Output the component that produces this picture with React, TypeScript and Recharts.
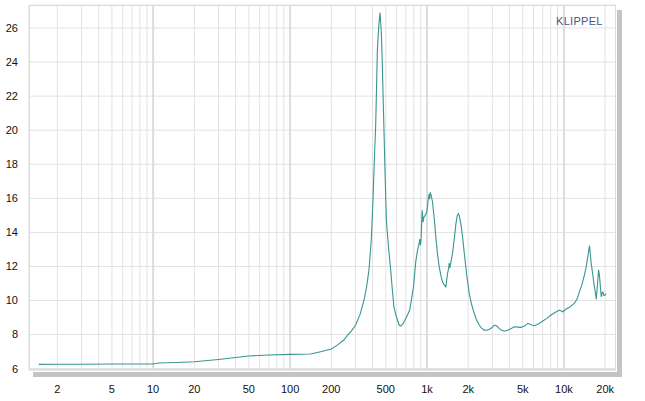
import React from "react";
import { LineChart, Line, XAxis, YAxis, CartesianGrid, ReferenceLine } from "recharts";

const freqs = [
  1.46, 2, 3, 5, 8, 10, 10.5, 11, 15, 20, 30, 40, 50, 70, 100, 141, 167, 200, 221, 247,
  262, 280, 301, 325, 347, 362, 377, 392, 404, 415, 422, 434, 445, 454, 464, 472, 480, 485,
  495, 505, 525, 543, 560, 574, 600, 625, 643, 670, 700, 748, 797, 828, 855, 876, 885, 895,
  905, 912, 922, 935, 950, 970, 997, 1020, 1036, 1045, 1055, 1070, 1096, 1130, 1159, 1190,
  1226, 1260, 1297, 1340, 1373, 1413, 1440, 1452, 1465, 1490, 1538, 1580, 1626, 1660, 1690,
  1720, 1768, 1820, 1870, 1950, 2034, 2120, 2212, 2300, 2405, 2500, 2618, 2740, 2850, 2970,
  3099, 3230, 3373, 3520, 3670, 4000, 4345, 4600, 4862, 5150, 5445, 5750, 6085, 6500, 7009,
  7500, 8060, 8600, 9270, 9820, 10400, 10970, 11930, 12500, 12980, 13500, 14120, 14500,
  14950, 15370, 15810, 16200, 16560, 17000, 17220, 17600, 17910, 18210, 18500, 18730,
  19000, 19270, 19550, 19810, 20370,
];

const impedance = [
  6.25, 6.26, 6.26, 6.27, 6.27, 6.28, 6.3, 6.33, 6.36, 6.4, 6.54, 6.65, 6.74, 6.8, 6.84, 6.86, 6.99, 7.15, 7.38, 7.68,
  7.95, 8.2, 8.56, 9.2, 10.03, 10.8, 11.8, 13.6, 16.1, 18.85, 20.3, 24.7, 26.2, 26.9, 25.7, 23.75, 21.4, 20.0,
  17.2, 14.7, 13.0, 11.8, 10.5, 9.6, 9.0, 8.56, 8.5, 8.65, 8.95, 9.44, 10.8, 12.3, 13.0, 13.36, 13.6, 13.25,
  13.6, 14.3, 15.3, 14.6, 14.9, 15.0, 15.2, 15.9, 16.25, 15.95, 16.35, 16.2, 15.8, 14.8, 13.75, 12.8,
  12.0, 11.5, 11.1, 10.9, 10.8, 11.6, 11.9, 12.2, 11.9, 12.2, 12.8, 13.6, 14.5, 14.95, 15.1,
  15.0, 14.5, 13.7, 12.8, 11.5, 10.4, 9.75, 9.25, 8.85, 8.56, 8.38, 8.26, 8.25, 8.3, 8.4,
  8.56, 8.5, 8.35, 8.25, 8.2, 8.3, 8.46, 8.44, 8.42, 8.5, 8.66, 8.58, 8.52, 8.62, 8.8,
  8.95, 9.15, 9.3, 9.44, 9.34, 9.5, 9.6, 9.84, 10.1, 10.52, 10.9, 11.5, 11.95,
  12.58, 13.22, 12.19, 11.6, 11.0, 10.4, 10.07, 11.0, 11.8, 11.4, 10.7, 10.22,
  10.45, 10.5, 10.3, 10.3, 10.4,
];

const xTicks = [2, 5, 10, 20, 50, 100, 200, 500, 1000, 2000, 5000, 10000, 20000];
const gridFreqs = [
  2, 3, 4, 5, 6, 7, 8, 9, 10, 20, 30, 40, 50, 60, 70, 80, 90, 100, 200, 300, 400, 500, 600, 700,
  800, 900, 1000, 2000, 3000, 4000, 5000, 6000, 7000, 8000, 9000, 10000, 20000,
];
const decadeFreqs = [10, 100, 1000, 10000];
const yTicks = [6, 8, 10, 12, 14, 16, 18, 20, 22, 24, 26];
const yMinorTicks = [6.5, 7, 7.5, 8.5, 9, 9.5, 10.5, 11, 11.5, 12.5, 13, 13.5, 14.5, 15, 15.5,
  16.5, 17, 17.5, 18.5, 19, 19.5, 20.5, 21, 21.5, 22.5, 23, 23.5, 24.5, 25, 25.5, 26.5, 27];

const data = freqs.map((f, i) => ({ f, z: impedance[i] }));

const fmtX = (v: number) => (v >= 1000 ? `${v / 1000}k` : `${v}`);

export default function App() {
  const font = { fontFamily: "'Liberation Sans', Arial, sans-serif", fontSize: 11, fill: "#111" };
  return (
    <div style={{ position: "absolute", left: 0, top: 0, width: 645, height: 401, background: "#fff" }}>
      <div style={{ position: "absolute", left: 617, top: 10, width: 5, height: 366, background: "#c4c4c4" }} />
      <div style={{ position: "absolute", left: 33, top: 372, width: 589, height: 5, background: "#c4c4c4" }} />
      <LineChart width={645} height={401} data={data} margin={{ top: 5, right: 29, bottom: 0, left: 0 }}>
        <CartesianGrid vertical={false} stroke="#e2e2e2" strokeDasharray="" />
        {gridFreqs.map((g) => (
          <ReferenceLine
            key={g}
            x={g}
            stroke={decadeFreqs.includes(g) ? "#dcdcdc" : "#e2e2e2"}
            strokeWidth={decadeFreqs.includes(g) ? 2 : 1}
            ifOverflow="hidden"
          />
        ))}
        <XAxis
          dataKey="f"
          type="number"
          scale="log"
          domain={[1.24, 24000]}
          allowDataOverflow
          ticks={xTicks}
          tickFormatter={fmtX}
          tick={font}
          tickLine={false}
          tickSize={0}
          tickMargin={15}
          axisLine={{ stroke: "#dcdcdc" }}
          height={31}
          interval={0}
        />
        <YAxis
          type="number"
          domain={[5.92, 27.35]}
          allowDataOverflow
          ticks={yTicks}
          tick={font}
          tickLine={false}
          tickSize={0}
          tickMargin={11}
          axisLine={{ stroke: "#dcdcdc" }}
          width={29}
          interval={0}
        />
        <YAxis
          yAxisId="minor"
          type="number"
          domain={[5.92, 27.35]}
          allowDataOverflow
          ticks={yMinorTicks}
          mirror
          tick={false}
          tickLine={{ stroke: "#dcdcdc" }}
          tickSize={6}
          axisLine={false}
          interval={0}
        />
        <Line
          type="linear"
          dataKey="z"
          stroke="#379592"
          strokeWidth={1.1}
          dot={false}
          isAnimationActive={false}
        />
      </LineChart>
      <div style={{ position: "absolute", left: 29, top: 5, width: 587, height: 365, border: "1px solid #dcdcdc", boxSizing: "border-box", pointerEvents: "none" }} />
      <div style={{ position: "absolute", left: 556, top: 15, fontFamily: "'Liberation Sans', Arial, sans-serif", fontSize: 11, color: "#44588c", letterSpacing: 0.3 }}>KLIPPEL</div>
    </div>
  );
}
